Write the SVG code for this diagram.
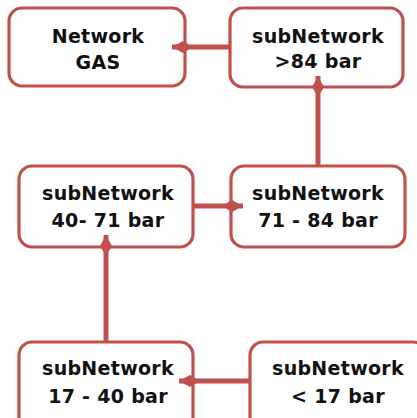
<svg xmlns="http://www.w3.org/2000/svg" width="417" height="418" viewBox="0 0 417 418">
  <style>
    .box { fill: #ffffff; stroke: #c0504d; stroke-width: 3.2; }
    .lbl { font-family: "DejaVu Sans", Verdana, sans-serif; font-weight: bold; font-size: 19px; letter-spacing: 0.3px; fill: #111111; text-anchor: middle; }
    .link { fill: none; stroke: #c0504d; stroke-width: 5; }
  </style>
  <defs>
    <marker id="kite" markerUnits="userSpaceOnUse" markerWidth="24" markerHeight="16" viewBox="-22 -8 24 16" refX="0" refY="0" orient="auto">
      <path d="M0,0 L-11,-6 L-21,0 L-11,6 Z" fill="#c0504d"/>
    </marker>
  </defs>
  <rect width="417" height="418" fill="#ffffff"/>

  <g id="network-gas">
    <rect class="box" x="9" y="8" width="176" height="78" rx="13"/>
    <text class="lbl" x="98" y="43">Network</text>
    <text class="lbl" x="98" y="69">GAS</text>
  </g>
  <g id="sub-above-84">
    <rect class="box" x="230" y="8" width="173" height="79" rx="13"/>
    <text class="lbl" x="318" y="43">subNetwork</text>
    <text class="lbl" x="318" y="68">&gt;84 bar</text>
  </g>
  <g id="sub-40-71">
    <rect class="box" x="19" y="166" width="174" height="81" rx="13"/>
    <text class="lbl" x="108" y="200">subNetwork</text>
    <text class="lbl" x="108" y="227">40- 71 bar</text>
  </g>
  <g id="sub-71-84">
    <rect class="box" x="231" y="166" width="174" height="81" rx="13"/>
    <text class="lbl" x="318" y="200">subNetwork</text>
    <text class="lbl" x="318" y="227">71 - 84 bar</text>
  </g>
  <g id="sub-17-40">
    <rect class="box" x="19" y="342" width="174" height="90" rx="13"/>
    <text class="lbl" x="108" y="375">subNetwork</text>
    <text class="lbl" x="108" y="403">17 - 40 bar</text>
  </g>
  <g id="sub-below-17">
    <rect class="box" x="250" y="342" width="176" height="90" rx="13"/>
    <text class="lbl" x="338" y="375">subNetwork</text>
    <text class="lbl" x="338" y="403">&lt; 17 bar</text>
  </g>

  <!-- links drawn last so the kite heads sit over the box borders -->
  <g id="connectors">
    <path class="link" d="M230,47 L172,47" marker-end="url(#kite)"/>
    <path class="link" d="M318,165 L318,76" marker-end="url(#kite)"/>
    <path class="link" d="M193,206 L243,206" marker-end="url(#kite)"/>
    <path class="link" d="M106,341 L106,235" marker-end="url(#kite)"/>
    <path class="link" d="M249,381 L179,381" marker-end="url(#kite)"/>
  </g>
</svg>
